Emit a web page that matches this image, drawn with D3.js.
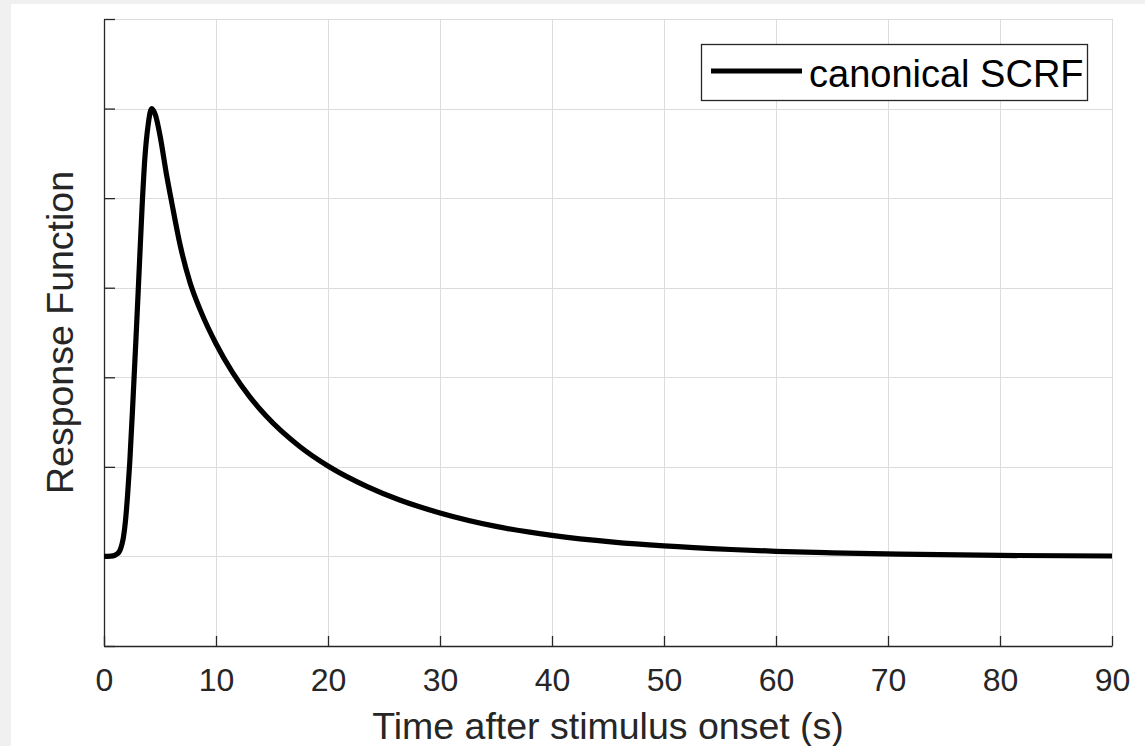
<!DOCTYPE html>
<html>
<head>
<meta charset="utf-8">
<script src="https://cdn.jsdelivr.net/npm/d3@7"></script>
<style>
  html, body { margin: 0; padding: 0; background: #f0f0f0; }
  svg { display: block; }
  text { font-family: "Liberation Sans", Arial, Helvetica, sans-serif; fill: #262626; }
</style>
</head>
<body>
<svg id="chart" width="1145" height="746"></svg>
<script>
// values
const timeSec = [0, 0.6, 1.0, 1.2, 1.43, 1.6, 1.73, 1.9, 2.1, 2.3, 2.6, 2.9, 3.15, 3.4, 3.65, 3.95, 4.25, 4.6, 5.0, 5.6, 6.05, 6.8, 7.7, 8.6, 10, 11.5, 13, 14.5, 17.5, 20, 23.5, 26.4, 30, 35, 40, 45.5, 50, 56, 60, 65, 71, 80, 90];
const scrfValue = [0, 0.0005, 0.003, 0.006, 0.014, 0.027, 0.042, 0.075, 0.135, 0.21, 0.355, 0.51, 0.645, 0.78, 0.89, 0.965, 1.0, 0.985, 0.94, 0.85, 0.79, 0.695, 0.61, 0.55, 0.475, 0.41, 0.357, 0.313, 0.245, 0.202, 0.156, 0.126, 0.097, 0.067, 0.047, 0.032, 0.0235, 0.0155, 0.0115, 0.008, 0.005, 0.0022, 0.001];
const xTicks = [0, 10, 20, 30, 40, 50, 60, 70, 80, 90];
const yTicks = [-0.2, 0, 0.2, 0.4, 0.6, 0.8, 1.0, 1.2];
const legendLabel = 'canonical SCRF';

const svg = d3.select('#chart');
svg.append('rect')
  .attr('x', 11).attr('y', 4)
  .attr('width', 1134).attr('height', 742)
  .attr('fill', '#ffffff');

const m = { left: 104, right: 1112, top: 19, bottom: 646 };
const x = d3.scaleLinear().domain([0, 90]).range([m.left, m.right]);
const y = d3.scaleLinear().domain([-0.2, 1.2]).range([m.bottom, m.top]);

// grid
const grid = svg.append('g').attr('stroke', '#dcdcdc').attr('stroke-width', 1);
xTicks.forEach((t) => {
  grid.append('line')
    .attr('x1', Math.round(x(t)) + 0.5).attr('x2', Math.round(x(t)) + 0.5)
    .attr('y1', m.top).attr('y2', m.bottom);
});
yTicks.forEach((t) => {
  grid.append('line')
    .attr('x1', m.left).attr('x2', m.right)
    .attr('y1', Math.round(y(t)) + 0.5).attr('y2', Math.round(y(t)) + 0.5);
});

// axes (ticks inward, MATLAB style)
const xAxis = d3.axisBottom(x).tickValues(xTicks).tickSizeInner(-10).tickSizeOuter(0).tickPadding(18);
const gx = svg.append('g').attr('transform', `translate(0,${m.bottom})`).call(xAxis);
gx.select('.domain').attr('stroke', '#262626').attr('stroke-width', 1.3);
gx.selectAll('.tick line').attr('stroke', '#262626').attr('stroke-width', 1.3);
gx.selectAll('.tick text')
  .attr('font-size', 32)
  .attr('font-family', '"Liberation Sans", Arial, sans-serif')
  .attr('fill', '#262626')
  .attr('dy', '0.85em');

const yAxis = d3.axisLeft(y).tickValues(yTicks).tickSizeInner(-11).tickSizeOuter(0).tickFormat('');
const gy = svg.append('g').attr('transform', `translate(${m.left},0)`).call(yAxis);
gy.select('.domain').attr('stroke', '#262626').attr('stroke-width', 1.3);
gy.selectAll('.tick line').attr('stroke', '#262626').attr('stroke-width', 1.3);

// curve
const data = timeSec.map((t, i) => ({ t, v: scrfValue[i] }));
const line = d3.line()
  .x((d) => x(d.t))
  .y((d) => y(d.v))
  .curve(d3.curveMonotoneX);
svg.append('path')
  .datum(data)
  .attr('d', line)
  .attr('fill', 'none')
  .attr('stroke', '#000000')
  .attr('stroke-width', 5.2)
  .attr('stroke-linejoin', 'round');

// labels
svg.append('text')
  .attr('x', (m.left + m.right) / 2)
  .attr('y', 739)
  .attr('text-anchor', 'middle')
  .attr('font-size', 37.5)
  .text('Time after stimulus onset (s)');

svg.append('text')
  .attr('transform', `translate(73,${(m.top + m.bottom) / 2}) rotate(-90)`)
  .attr('text-anchor', 'middle')
  .attr('font-size', 37.5)
  .text('Response Function');

// legend
const lg = svg.append('g');
lg.append('rect')
  .attr('x', 701.5).attr('y', 44.5)
  .attr('width', 386).attr('height', 56)
  .attr('fill', '#ffffff')
  .attr('stroke', '#262626')
  .attr('stroke-width', 1.3);
lg.append('line')
  .attr('x1', 711).attr('x2', 802)
  .attr('y1', 71).attr('y2', 71)
  .attr('stroke', '#000000')
  .attr('stroke-width', 5);
lg.append('text')
  .attr('x', 809)
  .attr('y', 86.5)
  .attr('font-size', 38)
  .style('fill', '#000000')
  .text(legendLabel);
</script>
</body>
</html>
